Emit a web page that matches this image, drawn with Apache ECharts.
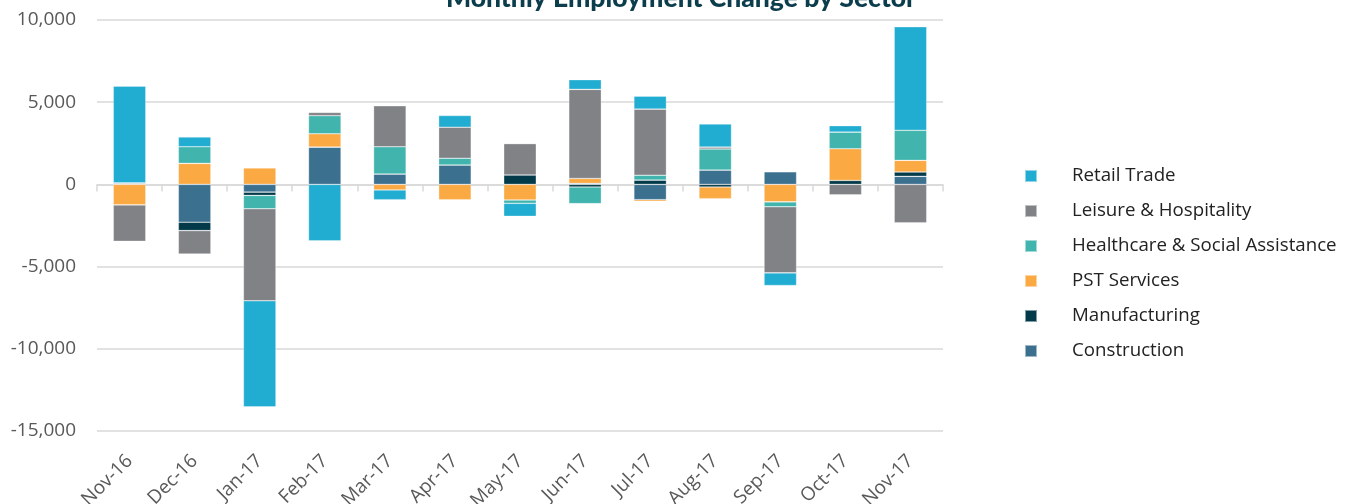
<!DOCTYPE html>
<html>
<head>
<meta charset="utf-8">
<title>Monthly Employment Change by Sector</title>
<script src="https://cdn.jsdelivr.net/npm/echarts@6/dist/echarts.min.js"></script>
<style>
  html, body { margin: 0; padding: 0; background: #fff; }
  #chart { width: 1349px; height: 504px; }
</style>
</head>
<body>
<div id="chart"></div>
<script>
  // categories
  var months = ['Nov-16', 'Dec-16', 'Jan-17', 'Feb-17', 'Mar-17', 'Apr-17', 'May-17',
                'Jun-17', 'Jul-17', 'Aug-17', 'Sep-17', 'Oct-17', 'Nov-17'];

  // series values (jobs)
  var construction  = [30, -2300, -470, 2270, 630, 1180, 0, 60, -930, 870, 770, 0, 490];
  var manufacturing = [60, -510, -200, 0, 0, 0, 570, -160, 260, -160, 0, 240, 260];
  var pstServices   = [-1250, 1280, 1000, 810, -340, -930, -950, 300, -100, -710, -1060, 1930, 710];
  var healthcare    = [0, 1010, -810, 1100, 1660, 410, -200, -1010, 300, 1280, -300, 1010, 1830];
  var leisure       = [-2210, -1420, -5600, 200, 2490, 1890, 1910, 5420, 4020, 120, -4020, -630, -2330];
  var retail        = [5890, 590, -6450, -3430, -590, 710, -790, 590, 790, 1400, -770, 390, 6300];

  // y axis range
  var yMin = -15000;
  var yMax = 10000;
  var yStep = 5000;

  var chart = echarts.init(document.getElementById('chart'));

  function bar(name, values, color) {
    return {
      name: name,
      type: 'bar',
      stack: 'total',
      barWidth: '50%',
      data: values,
      itemStyle: {
        color: color,
        borderColor: 'rgba(255,255,255,0.5)',
        borderWidth: 0.6
      }
    };
  }

  chart.setOption({
    animation: false,
    title: {
      text: 'Monthly Employment Change by Sector',
      left: 676,
      textAlign: 'center',
      top: -20,
      textStyle: {
        fontFamily: 'Lato',
        fontWeight: 900,
        fontSize: 26.5,
        color: '#0b3d4c'
      }
    },
    grid: {
      left: 97,
      right: 406,
      top: 20,
      bottom: 73,
      outerBoundsMode: 'none'
    },
    legend: {
      orient: 'vertical',
      left: 1019,
      top: 160,
      itemWidth: 12,
      itemHeight: 12,
      itemGap: 13,
      icon: 'rect',
      data: ['Retail Trade', 'Leisure & Hospitality', 'Healthcare & Social Assistance',
             'PST Services', 'Manufacturing', 'Construction'],
      textStyle: {
        fontFamily: 'Open Sans',
        fontSize: 18.7,
        lineHeight: 22,
        color: '#222',
        padding: [0, 0, 0, 30]
      }
    },
    xAxis: [
      {
        // line and ticks sitting on zero
        type: 'category',
        data: months,
        axisLine: { onZero: true, lineStyle: { color: '#d9d9d9', width: 1.5 } },
        axisTick: { show: true, length: 7, lineStyle: { color: '#d9d9d9', width: 1.5 } },
        axisLabel: { show: false },
        splitLine: { show: false }
      },
      {
        // labels at the bottom
        type: 'category',
        data: months,
        position: 'bottom',
        axisLine: { show: false, onZero: false },
        axisTick: { show: false },
        axisLabel: {
          interval: 0,
          rotate: 45,
          margin: 27,
          fontFamily: 'Open Sans',
          fontSize: 19,
          color: '#595959'
        }
      }
    ],
    yAxis: {
      type: 'value',
      min: yMin,
      max: yMax,
      interval: yStep,
      axisLine: { show: false },
      axisTick: { show: false },
      axisLabel: {
        margin: 21,
        fontFamily: 'Open Sans',
        fontSize: 19,
        color: '#595959',
        formatter: function (v) {
          return v.toLocaleString('en-US');
        }
      },
      splitLine: { lineStyle: { color: '#d9d9d9', width: 1.5 } }
    },
    series: [
      bar('Construction', construction, '#3c708f'),
      bar('Manufacturing', manufacturing, '#033a4a'),
      bar('PST Services', pstServices, '#fba943'),
      bar('Healthcare & Social Assistance', healthcare, '#40b4ad'),
      bar('Leisure & Hospitality', leisure, '#818286'),
      bar('Retail Trade', retail, '#21acd1')
    ]
  });
</script>
</body>
</html>
